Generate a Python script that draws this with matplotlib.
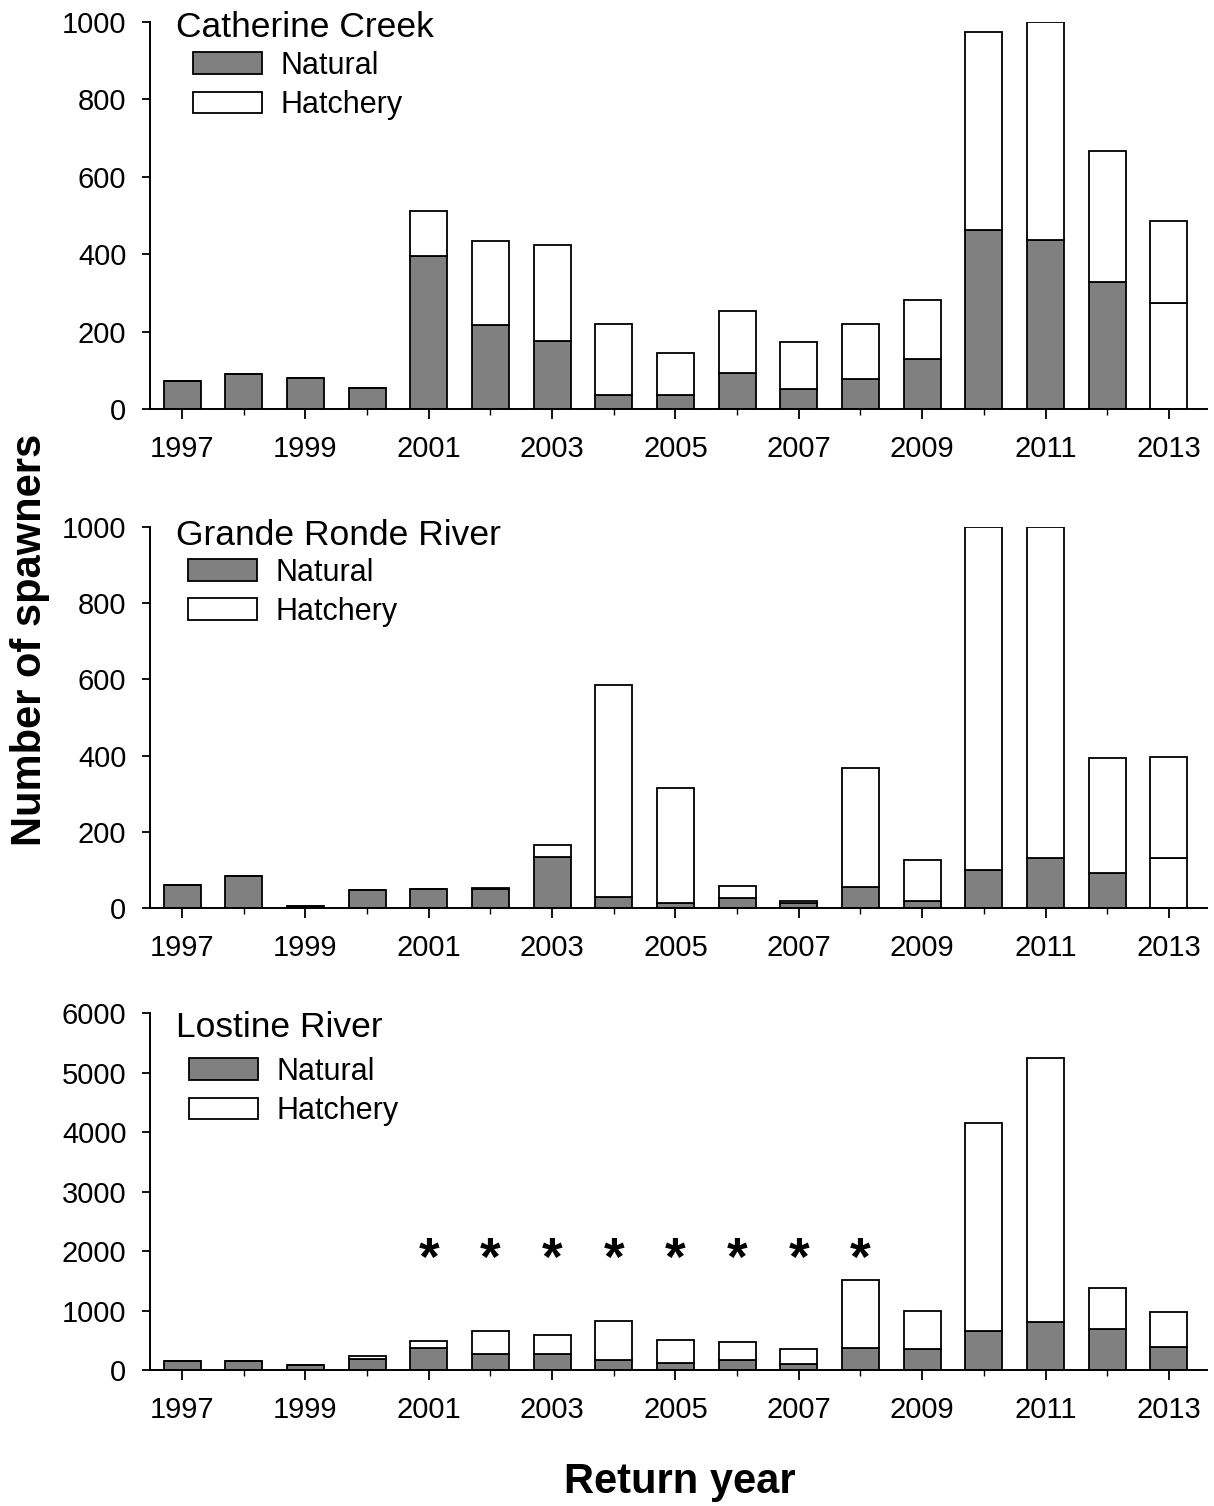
import matplotlib.pyplot as plt
from matplotlib.patches import Patch

plt.rcParams['font.family'] = ['Liberation Sans', 'DejaVu Sans']

years = list(range(1997, 2014))

catherine_natural = [72, 91, 81, 55, 395, 217, 175, 37, 36, 93, 52, 78, 129, 463, 437, 327, 275]
catherine_hatchery = [0, 0, 0, 0, 117, 216, 248, 182, 109, 159, 122, 142, 152, 512, 562, 340, 212]

grande_natural = [61, 84, 4, 46, 50, 49, 135, 29, 12, 27, 13, 55, 18, 100, 131, 92, 130]
grande_hatchery = [0, 0, 0, 0, 0, 3, 30, 557, 304, 30, 4, 312, 109, 899, 868, 301, 266]

lostine_natural = [151, 151, 84, 179, 370, 274, 263, 173, 118, 162, 101, 364, 353, 661, 801, 683, 381]
lostine_hatchery = [0, 0, 0, 61, 122, 386, 325, 656, 386, 309, 246, 1154, 644, 3485, 4443, 689, 594]

# years where the lower segment is drawn unfilled
catherine_open = [2013]
grande_open = [2013]
lostine_open = []

star_years = [2001, 2002, 2003, 2004, 2005, 2006, 2007, 2008]
star_level = 2000

label_years = list(range(1997, 2014, 2))

GRAY = '#808080'

panels = [
    ('Catherine Creek', catherine_natural, catherine_hatchery, catherine_open,
     [0.1236, 0.7284, 0.8707, 0.257], 1000, 200, 0.961, (0.0407, 0.925)),
    ('Grande Ronde River', grande_natural, grande_hatchery, grande_open,
     [0.1236, 0.3971, 0.8707, 0.253], 1000, 200, 0.953, (0.036, 0.919)),
    ('Lostine River', lostine_natural, lostine_hatchery, lostine_open,
     [0.1236, 0.0903, 0.8707, 0.237], 6000, 1000, 0.933, (0.037, 0.877)),
]

fig = plt.figure(figsize=(12.14, 15.06), dpi=100)

for name, nat, hat, open_years, pos, ymax, ystep, title_y, leg_xy in panels:
    ax = fig.add_axes(pos)
    ncol = [('white' if y in open_years else GRAY) for y in years]
    ax.bar(years, nat, width=0.6, color=ncol, edgecolor='black', linewidth=1.3)
    ax.bar(years, hat, width=0.6, bottom=nat, color='white', edgecolor='black', linewidth=1.3)

    ax.set_xlim(1996.48, 2013.62)
    ax.set_ylim(0, ymax)
    ax.set_yticks(range(0, ymax + 1, ystep))
    ax.set_xticks(label_years)
    ax.set_xticks([y for y in years if y not in label_years], minor=True)

    for s in ['top', 'right']:
        ax.spines[s].set_visible(False)
    for s in ['left', 'bottom']:
        ax.spines[s].set_linewidth(1.4)

    ax.tick_params(axis='both', which='major', labelsize=21, direction='out', width=1.3)
    ax.tick_params(axis='x', which='major', length=7, pad=12)
    ax.tick_params(axis='x', which='minor', length=4, width=1.0)
    ax.tick_params(axis='y', which='major', length=6, pad=11)

    ax.text(0.0246, title_y, name, transform=ax.transAxes,
            fontsize=25.5, ha='left', va='baseline')

    handles = [Patch(facecolor=GRAY, edgecolor='black', linewidth=1.3, label='Natural'),
               Patch(facecolor='white', edgecolor='black', linewidth=1.3, label='Hatchery')]
    ax.legend(handles=handles, loc='upper left', bbox_to_anchor=leg_xy, frameon=False,
              fontsize=22, handlelength=2.26, handleheight=0.72, handletextpad=0.59,
              labelspacing=0.3, borderpad=0, borderaxespad=0)

    if name == 'Lostine River':
        for y in star_years:
            ax.annotate('*', (y, star_level), xytext=(0, -10), textcoords='offset pixels',
                        fontsize=38, fontweight='bold', ha='center', va='center')

fig.text(0.0247, 0.575, 'Number of spawners', rotation=90, fontsize=30,
         fontweight='bold', ha='center', va='center')
fig.text(0.56, 0.016, 'Return year', fontsize=30, fontweight='bold',
         ha='center', va='center')

fig.savefig('out.png', dpi=100)
